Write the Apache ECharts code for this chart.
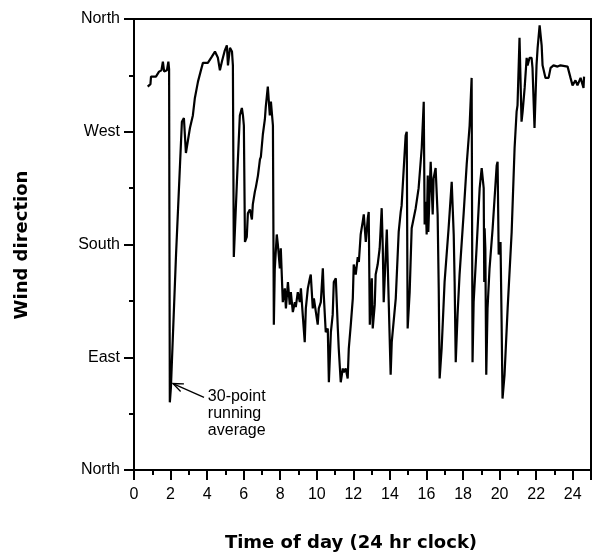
<!DOCTYPE html>
<html>
<head>
<meta charset="utf-8">
<script src="https://cdn.jsdelivr.net/npm/echarts@6/dist/echarts.min.js"></script>
<style>html,body{margin:0;padding:0;background:#fff}#c{width:599px;height:555px}</style>
</head>
<body>
<div id="c"></div>
<script>
// Time of day (hours)
var hours = [0.75,0.82,0.90,0.93,1.20,1.37,1.50,1.58,1.65,1.80,1.88,1.92,1.96,1.99,2.02,2.30,2.62,2.73,2.84,2.95,
3.06,3.22,3.33,3.50,3.66,3.77,3.88,4.04,4.26,4.43,4.59,4.70,4.81,4.97,5.08,5.14,5.25,5.36,5.41,5.46,
5.63,5.79,5.90,5.96,6.01,6.07,6.17,6.23,6.34,6.45,6.50,6.61,6.67,6.78,6.89,6.94,7.05,7.16,7.21,7.32,
7.43,7.49,7.60,7.65,7.70,7.81,7.87,7.98,8.03,8.14,8.25,8.31,8.42,8.52,8.58,8.69,8.80,8.85,8.96,9.07,
9.13,9.23,9.34,9.40,9.51,9.62,9.67,9.78,9.84,9.95,10.05,10.11,10.22,10.33,10.38,10.49,10.60,10.66,10.77,10.87,
10.93,11.04,11.15,11.20,11.31,11.42,11.48,11.58,11.69,11.75,11.86,11.97,12.02,12.13,12.24,12.30,12.40,12.51,12.57,12.68,
12.79,12.84,12.90,13.01,13.06,13.17,13.22,13.33,13.44,13.55,13.61,13.66,13.77,13.83,13.93,14.04,14.10,14.32,14.48,14.59,
14.64,14.86,14.92,14.97,15.08,15.19,15.41,15.57,15.74,15.85,15.90,15.96,16.01,16.07,16.10,16.17,16.23,16.34,16.39,16.50,
16.61,16.67,16.72,16.83,16.99,17.21,17.38,17.49,17.54,17.60,17.70,17.81,18.03,18.20,18.36,18.47,18.52,18.58,18.74,18.91,
19.02,19.13,19.16,19.18,19.22,19.27,19.34,19.45,19.62,19.84,19.89,19.95,20.05,20.11,20.16,20.27,20.44,20.66,20.82,20.93,
20.98,21.09,21.20,21.26,21.37,21.48,21.53,21.64,21.75,21.80,21.91,22.02,22.08,22.19,22.30,22.35,22.51,22.68,22.79,22.95,
23.17,23.33,23.72,23.88,23.99,24.15,24.26,24.43,24.59,24.62];
// Wind direction (degrees, 0 = North, 90 = East, 180 = South, 270 = West)
var direction = [306,306,308,314,314,318,319,326,318,319,326,320,54,60,66,172,278,281,253,263,
273,283,297,310,319,325,325,325,330,334,329,319,326,335,339,323,337,334,323,170,
230,283,289,283,275,182,186,205,208,200,212,222,226,235,248,250,268,280,290,306,
283,294,275,116,160,188,180,161,177,134,145,129,150,132,142,126,134,130,142,134,
145,124,102,129,145,153,156,129,137,126,116,129,134,161,140,110,113,70,110,124,
150,153,113,97,70,81,78,81,73,97,116,137,164,156,170,166,188,198,204,182,
201,206,116,153,113,132,156,164,177,209,177,134,172,192,192,76,102,137,190,206,
211,267,270,113,142,193,209,225,257,294,196,214,188,235,190,222,246,204,233,241,
204,145,73,97,150,193,230,188,150,86,124,156,204,244,275,313,86,134,177,225,
241,225,150,193,177,76,129,161,193,243,246,172,182,118,57,76,129,190,257,286,
291,345,278,286,305,329,323,329,329,321,273,323,337,355,339,323,313,313,321,323,
322,323,322,313,307,311,307,313,305,314];
var xTickLabels = ['0','2','4','6','8','10','12','14','16','18','20','22','24'];
var yTickValues = [0,90,180,270,360];
var yTickLabels = ['North','East','South','West','North'];
var annotationLines = ['30-point','running','average'];
var annotationAt = [4.04, 58];
var arrowTip = [2.13, 69];
var arrowTail = [3.83, 58];

var series = hours.map(function(h,i){return [h, direction[i]];});
var chart = echarts.init(document.getElementById('c'), null, {renderer:'canvas'});
var tickFont = {fontFamily:'Liberation Sans', fontSize:16, color:'#000'};
var option = {
  animation:false,
  backgroundColor:'#fff',
  grid:{left:134, right:8, top:19, bottom:85, show:true, borderColor:'#000', borderWidth:2, backgroundColor:'transparent'},
  xAxis:[{
    type:'value', min:0, max:25, interval:2,
    axisLine:{lineStyle:{color:'#000', width:2}},
    axisTick:{length:10, lineStyle:{color:'#000', width:2}},
    splitLine:{show:false},
    axisLabel:Object.assign({margin:17, formatter:function(v){var s=String(v);return xTickLabels.indexOf(s)>=0?s:'';}}, tickFont)
  },{
    type:'value', min:0, max:25, interval:1, position:'bottom',
    axisLine:{show:false},
    axisTick:{length:5, lineStyle:{color:'#000', width:2}},
    splitLine:{show:false}, axisLabel:{show:false}
  }],
  yAxis:[{
    type:'value', min:0, max:360, interval:90,
    axisLine:{show:true, lineStyle:{color:'#000', width:2}},
    axisTick:{show:true, length:10, lineStyle:{color:'#000', width:2}},
    splitLine:{show:false},
    axisLabel:Object.assign({margin:14, formatter:function(v){var k=yTickValues.indexOf(v);return k>=0?yTickLabels[k]:'';}}, tickFont)
  },{
    type:'value', min:0, max:360, interval:45, position:'left',
    axisLine:{show:false},
    axisTick:{show:true, length:5, lineStyle:{color:'#000', width:2}},
    splitLine:{show:false}, axisLabel:{show:false}
  }],
  series:[{
    type:'line', data:series, xAxisIndex:0, yAxisIndex:0,
    showSymbol:false, symbol:'none',
    lineStyle:{color:'#000', width:2.2}, z:3
  }]
};
chart.setOption(option);

var tip = chart.convertToPixel({xAxisIndex:0,yAxisIndex:0}, arrowTip);
var tail = chart.convertToPixel({xAxisIndex:0,yAxisIndex:0}, arrowTail);
var txt = chart.convertToPixel({xAxisIndex:0,yAxisIndex:0}, annotationAt);
var ang = Math.atan2(tail[1]-tip[1], tail[0]-tip[0]);
var L = 11, spread = 0.38;
var a1 = [tip[0]+L*Math.cos(ang+spread), tip[1]+L*Math.sin(ang+spread)];
var a2 = [tip[0]+L*Math.cos(ang-spread), tip[1]+L*Math.sin(ang-spread)];

chart.setOption({
  graphic:[
    {type:'line', shape:{x1:tail[0], y1:tail[1], x2:tip[0], y2:tip[1]}, style:{stroke:'#000', lineWidth:1.3}, z:10},
    {type:'polyline', shape:{points:[a1, tip, a2]}, style:{stroke:'#000', lineWidth:1.3, fill:null}, z:10},
    {type:'text', x:txt[0], y:txt[1]-9, style:{text:annotationLines.join('\n'), font:'16px "Liberation Sans"', lineHeight:17, fill:'#000', textVerticalAlign:'top'}, z:10},
    {type:'text', x:351, y:543, style:{text:'Time of day (24 hr clock)', font:'bold 18px "DejaVu Sans"', fill:'#000', textAlign:'center', textVerticalAlign:'middle'}, z:10},
    {type:'text', x:22, y:245, rotation:Math.PI/2, style:{text:'Wind direction', font:'bold 18px "DejaVu Sans"', fill:'#000', textAlign:'center', textVerticalAlign:'middle'}, z:10}
  ]
});
</script>
</body>
</html>
